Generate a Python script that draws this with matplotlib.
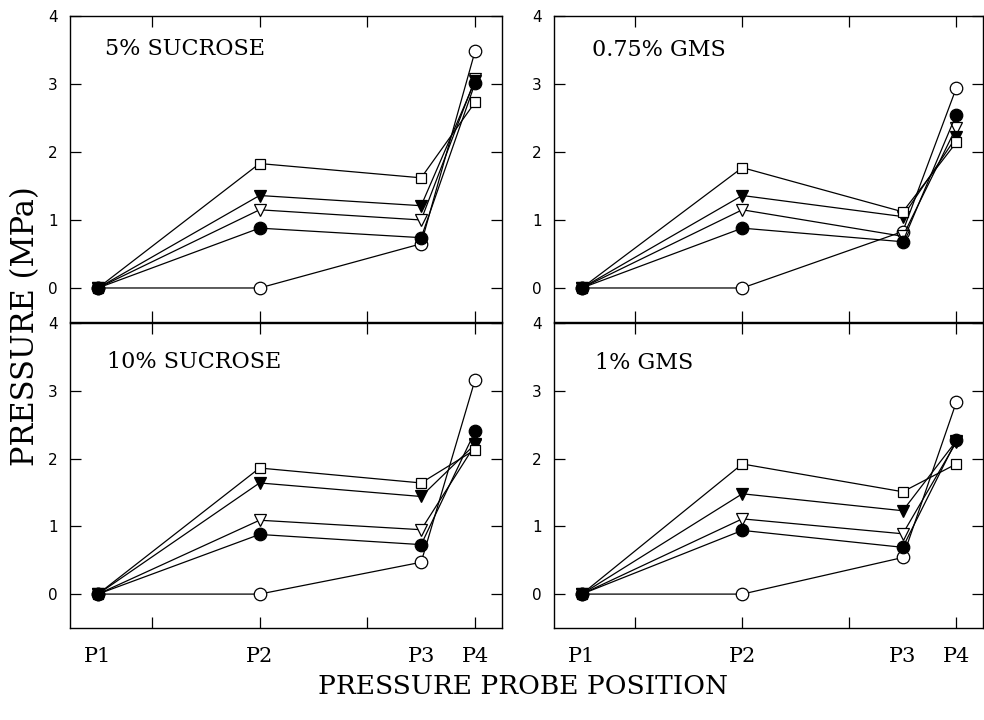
import numpy as np
import matplotlib
matplotlib.use("Agg")
import matplotlib.pyplot as plt

matplotlib.rcParams['font.family'] = 'DejaVu Serif'

# probe positions (P1..P4) on the horizontal axis
probe_labels = ['P1', 'P2', 'P3', 'P4']
probe_pos = [0.5, 2.0, 3.5, 4.0]

panel_titles = ['5% SUCROSE', '0.75% GMS', '10% SUCROSE', '1% GMS']

# pressure (MPa) at P1..P4 for each series, per panel
open_circle = [[0, 0, 0.65, 3.48],
               [0, 0, 0.83, 2.94],
               [0, 0, 0.47, 3.16],
               [0, 0, 0.54, 2.83]]
open_tri = [[0, 1.15, 1.00, 3.07],
            [0, 1.15, 0.76, 2.36],
            [0, 1.09, 0.95, 2.20],
            [0, 1.11, 0.89, 2.24]]
filled_tri = [[0, 1.36, 1.21, 3.04],
              [0, 1.36, 1.05, 2.22],
              [0, 1.64, 1.44, 2.21],
              [0, 1.48, 1.23, 2.26]]
open_square = [[0, 1.83, 1.62, 2.73],
               [0, 1.77, 1.12, 2.14],
               [0, 1.86, 1.64, 2.13],
               [0, 1.92, 1.51, 1.92]]
filled_circle = [[0, 0.88, 0.74, 3.01],
                 [0, 0.88, 0.68, 2.55],
                 [0, 0.88, 0.73, 2.40],
                 [0, 0.94, 0.69, 2.27]]

series = [(open_circle, 'o', 'white', 9),
          (open_tri, 'v', 'white', 9),
          (filled_tri, 'v', 'black', 9),
          (open_square, 's', 'white', 7.5),
          (filled_circle, 'o', 'black', 9)]

fig = plt.figure(figsize=(9.84, 7.2), dpi=100)

positions = [[0.0711, 0.5528, 0.439, 0.425],
             [0.563, 0.5528, 0.436, 0.425],
             [0.0711, 0.1278, 0.439, 0.4236],
             [0.563, 0.1278, 0.436, 0.4236]]
title_xy = [(0.081, 0.893), (0.089, 0.89), (0.086, 0.872), (0.096, 0.87)]

for k in range(4):
    ax = fig.add_axes(positions[k])
    for data, mk, fc, ms in series:
        ax.plot(probe_pos, data[k], '-', color='black', linewidth=0.9,
                marker=mk, markersize=ms, markerfacecolor=fc,
                markeredgecolor='black', markeredgewidth=0.9)

    ax.set_xlim(0.24, 4.25)
    ax.set_ylim(-0.5, 4)

    ax.set_yticks([0, 1, 2, 3, 4])
    ax.set_yticklabels(['0', '1', '2', '3', '4'], family='DejaVu Sans', fontsize=11)
    ax.tick_params(axis='y', direction='in', length=8, width=0.9, right=True, pad=9)

    # tick marks at 1..4, labels at probe positions
    ax.xaxis.remove_overlapping_locs = False
    ax.set_xticks([1, 2, 3, 4], minor=True)
    ax.set_xticks(probe_pos)
    if k >= 2:
        ax.set_xticklabels(probe_labels, fontsize=15)
    else:
        ax.set_xticklabels([])
    ax.tick_params(axis='x', which='minor', direction='in', length=8, width=0.9, top=True)
    ax.tick_params(axis='x', which='major', length=0, pad=14)

    for sp in ax.spines.values():
        sp.set_linewidth(1.0)

    ax.text(title_xy[k][0], title_xy[k][1], panel_titles[k], transform=ax.transAxes,
            fontsize=16, ha='left', va='center')

fig.text(0.026, 0.547, 'PRESSURE (MPa)', rotation=90, fontsize=22,
         ha='center', va='center')
fig.text(0.531, 0.047, 'PRESSURE PROBE POSITION', fontsize=19,
         ha='center', va='center')

plt.savefig('out.png', dpi=100)
plt.close()
